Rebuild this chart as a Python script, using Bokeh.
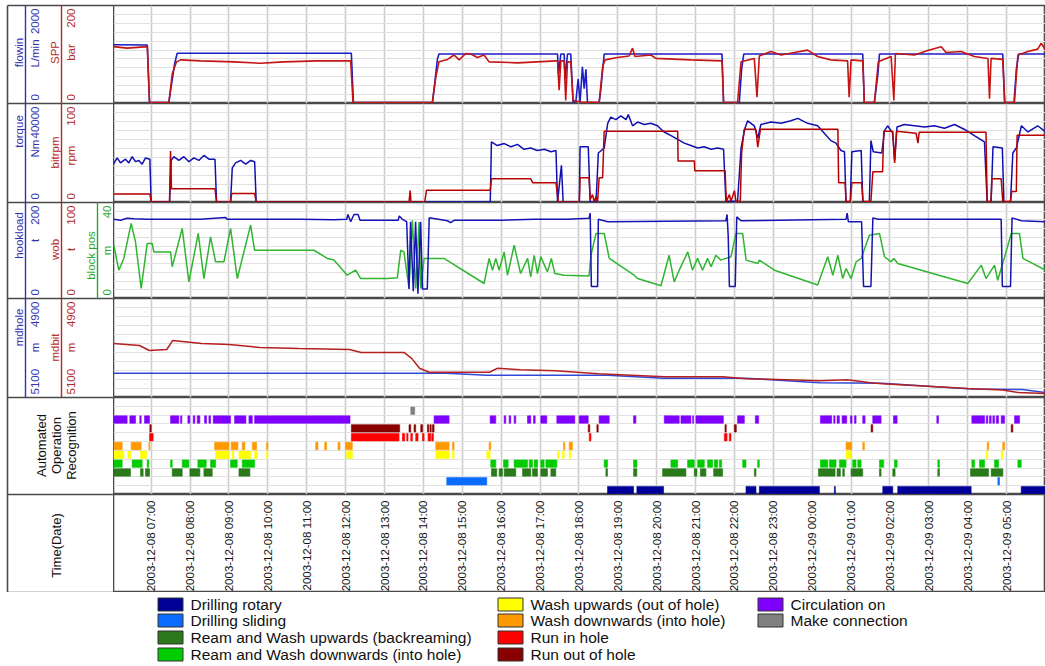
import numpy as np
import pandas as pd
from bokeh.plotting import figure
from bokeh.models import Range1d, FixedTicker
from bokeh.layouts import row, column
from bokeh.embed import file_html
from bokeh.resources import INLINE
from bokeh.core.properties import value

# ---------------- data (time in hours after 2003-12-08 06:00) ----------------
flow_t = [0.03, 0.9, 0.956, 1.454, 1.514, 1.6, 1.668, 6.147, 6.2, 8.232, 8.275, 8.36, 8.4, 11.45, 11.475, 11.535,
          11.62, 11.646, 11.706, 11.79, 11.85, 11.92, 11.98, 12.03, 12.09, 12.135, 12.18, 12.22, 12.52, 12.565, 12.65,
          15.68, 15.72, 16.125, 16.185, 16.24, 19.3, 19.34, 19.6, 19.69, 19.73, 22.9, 22.95, 23.19, 23.25, 23.31, 24.0]
flow_v = [1200, 1195, 20, 20, 350, 800, 1025, 1025, 20, 20, 300, 900, 1010, 1010, 600, 1010,
          1010, 500, 1010, 1010, 30, 30, 500, 30, 750, 300, 700, 20, 20, 300, 1010,
          1010, 20, 20, 700, 1010, 1010, 20, 20, 600, 1010, 1010, 20, 20, 700, 1010, 1010]

spp_t = [0.03, 0.38, 0.9, 0.956, 1.454, 1.54, 1.65, 1.755, 2.27, 3.13, 3.81, 4.41, 5.27, 6.13, 6.19, 8.23, 8.32, 8.4,
         8.62, 8.79, 8.92, 9.09, 9.22, 9.39, 9.56, 9.69, 10.42, 11.41, 11.45, 11.49, 11.535, 11.62, 11.66, 11.706,
         11.79, 11.85, 12.05, 12.52, 12.61, 12.67, 12.99, 13.29, 13.38, 13.44, 13.85, 13.98, 14.88, 15.68, 15.72,
         16.08, 16.17, 16.51, 16.58, 16.64, 16.94, 17.2, 17.54, 17.88, 18.14, 18.48, 18.91, 18.95, 19.0, 19.3, 19.34,
         19.6, 19.7, 20.03, 20.1, 20.14, 20.63, 20.97, 21.32, 21.44, 21.83, 22.17, 22.52, 22.56, 22.6, 22.9, 22.95,
         23.2, 23.29, 23.55, 23.8, 23.89, 24.0]
spp_v = [116, 113, 116, 2, 2, 60, 85, 89, 87, 85, 82, 85, 87, 87, 2, 2, 54, 85,
         90, 99, 89, 102, 101, 94, 99, 85, 83, 87, 87, 27, 87, 87, 6, 85,
         85, 6, 3, 2, 75, 89, 94, 97, 113, 96, 99, 92, 89, 87, 2,
         2, 85, 92, 13, 97, 106, 99, 104, 109, 96, 89, 87, 13, 89, 87, 2,
         2, 85, 96, 6, 102, 99, 108, 116, 104, 106, 96, 92, 10, 92, 90, 2,
         2, 99, 106, 111, 123, 109]

torque_t = [0.03, 0.124, 0.21, 0.338, 0.424, 0.51, 0.596, 0.682, 0.767, 0.853, 0.965, 0.999, 1.471, 1.514, 1.583,
            1.711, 1.84, 1.97, 2.1, 2.225, 2.355, 2.485, 2.64, 2.68, 3.04, 3.085, 3.17, 3.3, 3.43, 3.56, 3.66, 3.7,
            9.72, 9.75, 9.9, 10.08, 10.25, 10.42, 10.59, 10.76, 10.93, 11.11, 11.28, 11.41, 11.45, 11.55, 11.595,
            12.01, 12.03, 12.24, 12.29, 12.44, 12.5, 12.65, 12.74, 12.82, 12.95, 13.08, 13.21, 13.27, 13.38, 13.51,
            13.68, 13.85, 14.02, 14.19, 14.37, 14.54, 14.71, 14.88, 15.05, 15.22, 15.4, 15.57, 15.72, 15.78, 16.08,
            16.17, 16.27, 16.34, 16.51, 16.6, 16.68, 16.94, 17.2, 17.45, 17.63, 17.88, 18.14, 18.31, 18.48, 18.61,
            18.74, 18.83, 18.87, 18.98, 19.02, 19.26, 19.3, 19.47, 19.51, 19.57, 19.79, 19.86, 19.94, 20.07, 20.12,
            20.18, 20.37, 20.63, 20.89, 21.14, 21.4, 21.66, 21.92, 22.17, 22.43, 22.5, 22.6, 22.65, 22.89, 22.93,
            23.1, 23.16, 23.25, 23.38, 23.55, 23.8, 24.0]
torque_v = [15500, 18000, 16000, 17500, 16000, 18500, 16500, 17000, 15500, 18000, 17500, 200, 200, 17000, 18500,
            17000, 18500, 16500, 18000, 17000, 19000, 17500, 17500, 200, 200, 14000, 16000, 17000, 15500, 17000, 16500, 200,
            200, 24500, 23000, 23800, 22500, 23500, 21500, 22000, 21000, 21500, 20500, 21000, 200, 15000, 200,
            200, 22500, 22500, 300, 200, 20000, 22000, 32000, 34500, 33500, 35000, 33500, 35500, 31000, 32500,
            31500, 32000, 31000, 28500, 27000, 25500, 24000, 23000, 22000, 22500, 21500, 22000, 21500, 500, 500,
            22000, 30000, 33000, 31000, 26000, 31500, 32500, 32000, 33000, 34000, 32000, 31000, 28000, 25000, 24000,
            21000, 20500, 300, 300, 20500, 21000, 300, 300, 25000, 20500, 20000, 29000, 31000, 28000, 17000,
            30500, 31500, 31000, 30500, 31000, 30000, 31500, 29500, 27000, 24500, 300, 300, 22500, 22000, 300,
            300, 20000, 22000, 31000, 28500, 31000, 28500]

rpm_t = [0.03, 0.965, 0.999, 1.471, 1.497, 1.52, 2.64, 2.68, 3.04, 3.07, 3.66, 3.7, 7.63, 7.66, 7.68, 8.035, 8.08,
         9.72, 9.75, 10.76, 10.81, 11.41, 11.47, 12.01, 12.03, 12.26, 12.29, 12.35, 12.39, 12.44, 12.48, 12.52, 12.61,
         12.65, 14.54, 14.55, 14.97, 14.98, 15.76, 15.79, 15.87, 15.91, 16.0, 16.04, 16.15, 16.185, 16.25, 16.55,
         16.6, 16.67, 18.66, 18.68, 18.845, 18.87, 18.98, 19.02, 19.27, 19.31, 19.51, 19.56, 19.81, 19.84, 20.07,
         20.12, 20.17, 20.67, 20.72, 20.75, 22.47, 22.5, 22.6, 22.62, 22.86, 22.9, 23.1, 23.13, 23.25, 23.27, 24.0]
rpm_v = [8.5, 8.5, 0.5, 0.5, 52, 14, 14, 0.5, 0.5, 9, 9, 0.5, 0.5, 12, 0.5, 0.5, 12.5,
         12.5, 24, 24, 20, 20, 0.5, 0.5, 25, 25, 3, 8, 1, 6, 1, 25, 25,
         72, 72, 42, 42, 32, 32, 1, 8, 1, 12, 1, 1, 50, 74, 74,
         56, 74, 74, 20, 20, 1, 1, 20, 20, 1, 1, 31, 31, 72, 72,
         40, 72, 70, 60, 71, 71, 1, 1, 24, 24, 1, 1, 11, 11, 68, 68]

hook_t = [0.03, 0.21, 0.38, 0.553, 0.896, 1.411, 2.27, 2.91, 2.955, 3.13, 3.985, 4.84, 5.7, 6.03, 6.06, 6.13, 6.215,
          6.32, 6.37, 6.99, 7.35, 7.38, 7.46, 7.57, 7.63, 7.67, 7.74, 7.8, 7.86, 7.93, 7.975, 8.1, 8.15, 8.62, 8.7,
          8.79, 9.99, 10.85, 11.71, 12.26, 12.29, 12.32, 12.48, 12.5, 12.74, 15.78, 15.81, 15.84, 15.87, 16.02, 16.06,
          16.17, 18.87, 18.9, 18.93, 19.27, 19.32, 19.51, 19.56, 19.69, 22.86, 22.89, 23.1, 23.14, 23.38, 24.0]
hook_v = [165, 163, 167, 166, 165, 165, 165, 169, 165, 165, 165, 165, 164, 165, 175, 160, 175,
          175, 163, 163, 163, 172, 165, 160, 20, 160, 15, 160, 10, 160, 20, 20, 168, 162, 158,
          163, 163, 165, 165, 167, 178, 25, 25, 165, 160, 162, 175, 130, 25, 25, 170,
          162, 165, 178, 160, 160, 25, 25, 168, 165, 165, 25, 25, 168, 162, 160]

block_t = [0.038, 0.167, 0.296, 0.484, 0.596, 0.742, 0.896, 1.025, 1.068, 1.497, 1.54, 1.797, 1.969, 2.209, 2.355,
           2.526, 2.655, 2.87, 3.041, 3.213, 3.556, 3.659, 5.186, 5.529, 5.7, 6.04, 6.26, 6.387, 7.074, 7.33, 7.417,
           7.5, 7.63, 7.717, 7.803, 7.889, 7.932, 8.018, 8.53, 9.562, 9.69, 9.777, 9.862, 9.948, 10.077, 10.163,
           10.335, 10.5, 10.68, 10.76, 10.85, 10.935, 11.02, 11.19, 11.29, 11.38, 11.62, 12.26, 12.31, 12.44, 12.65,
           12.78, 13.42, 13.51, 14.11, 14.32, 14.45, 14.58, 14.8, 14.92, 15.05, 15.18, 15.31, 15.4, 15.52, 15.65,
           15.91, 16.04, 16.21, 16.3, 16.6, 16.64, 17.03, 18.14, 18.4, 18.53, 18.66, 18.785, 18.87, 19.0, 19.13,
           19.26, 19.47, 19.73, 19.86, 20.03, 20.1, 20.2, 22.0, 22.35, 22.47, 22.69, 22.77, 22.95, 23.12, 23.33,
           23.42, 24.0]
block_v = [22.2, 11.8, 16.7, 31.3, 23.6, 4.2, 22.9, 22.9, 19.4, 19.4, 13.2, 29.2, 6.9, 27.1, 8.3,
           25.7, 15.3, 15.3, 29.2, 8.3, 30.6, 20.1, 20.1, 16.7, 16.0, 9.7, 11.8, 8.3, 8.3, 8.6, 20.1,
           19.4, 4.2, 32.6, 4.2, 31.9, 4.2, 16.7, 16.7, 6.25, 16.7, 11.8, 16.7, 11.8, 19.4, 9.7,
           22.2, 10.4, 16.7, 9.0, 18.0, 10.4, 17.4, 11.1, 16.7, 10.4, 9.7, 9.4, 18.0, 27.1, 27.1,
           16.7, 9.7, 8.3, 5.3, 18.0, 6.9, 11.8, 19.4, 11.8, 16.7, 11.8, 16.7, 13.2, 18.0, 16.0,
           17.4, 27.1, 27.1, 16.0, 14.6, 16.0, 11.8, 5.6, 17.4, 9.7, 18.0, 8.3, 12.5, 8.3, 15.3,
           16.7, 26.4, 27.1, 17.4, 15.3, 16.7, 14.6, 6.25, 13.9, 8.3, 13.9, 7.6, 17.4, 27.1, 27.1,
           16.7, 11.8]

mdbit_t = [0.03, 0.7, 0.95, 1.4, 1.55, 2.3, 3.0, 3.8, 4.8, 6.1, 6.4, 7.5, 7.7, 7.9, 8.15, 9.7, 9.9, 10.5, 11.4,
           12.5, 14.2, 15.7, 16.3, 18.2, 18.9, 19.5, 19.8, 22.0, 22.9, 23.3, 24.0]
mdbit_v = [4991, 4995, 5005, 5003, 4985, 4991, 4993, 4999, 5001, 5003, 5009, 5009, 5021, 5041, 5049, 5049, 5041,
           5044, 5046, 5052, 5058, 5058, 5062, 5066, 5064, 5070, 5072, 5082, 5085, 5090, 5092]
mdhole_t = [0.03, 8.6, 9.63, 12.74, 14.18, 16.3, 18.19, 19.8, 22.1, 23.4, 24.0]
mdhole_v = [5051, 5051, 5055, 5055, 5061, 5061, 5070, 5071, 5083, 5084, 5090]

# operation recognition intervals [start_h, end_h]
rotary_iv = [[12.736, 13.405], [13.491, 14.178], [16.297, 16.554], [16.64, 18.185], [18.571, 18.596],
             [19.815, 20.072], [20.2, 22.088], [23.375, 24.02]]
sliding_iv = [[8.601, 9.63], [22.775, 22.818]]
reamup_iv = [[0.038, 0.467], [0.725, 0.793], [0.853, 0.956], [1.54, 1.797], [1.994, 2.252], [2.355, 2.57],
             [3.256, 3.539], [9.75, 9.888], [9.948, 10.034], [10.077, 10.377], [10.549, 10.763], [10.806, 10.935],
             [11.02, 11.192], [11.278, 11.406], [12.693, 12.736], [13.405, 13.491], [14.152, 14.752],
             [14.967, 15.036], [15.122, 15.267], [15.465, 15.696], [16.511, 16.554], [18.159, 18.588],
             [18.639, 18.725], [18.785, 18.828], [18.999, 19.3], [19.729, 19.772], [20.072, 20.132],
             [21.23, 21.273], [22.071, 22.535], [22.603, 22.904]]
reamdown_iv = [[0.038, 0.253], [0.51, 0.768], [0.896, 0.939], [1.497, 1.54], [1.797, 1.969], [2.2, 2.415],
               [2.526, 2.655], [3.041, 3.213], [3.342, 3.659], [9.733, 9.862], [10.06, 10.18], [10.334, 10.677],
               [10.72, 10.806], [10.849, 10.935], [11.02, 11.106], [11.15, 11.432], [12.65, 12.736],
               [13.405, 13.491], [14.366, 14.538], [14.795, 14.967], [15.053, 15.224], [15.31, 15.439],
               [15.482, 15.568], [15.61, 15.67], [16.211, 16.297], [16.597, 16.64], [18.21, 18.4], [18.442, 18.614],
               [18.7, 18.87], [19.042, 19.128], [19.171, 19.257], [19.729, 19.84], [20.115, 20.184],
               [21.23, 21.273], [22.106, 22.175], [22.303, 22.431], [22.689, 22.792], [23.29, 23.375]]
washup_iv = [[0.038, 0.296], [0.4, 0.467], [0.725, 0.879], [2.655, 2.998], [3.084, 3.127], [3.256, 3.556],
             [3.659, 3.728], [3.968, 4.002], [6.027, 6.173], [8.318, 8.661], [8.747, 8.79], [9.63, 9.716],
             [11.45, 11.49], [11.578, 11.621], [11.75, 11.793], [18.87, 18.999], [22.474, 22.517], [22.861, 22.904]]
washdown_iv = [[0.038, 0.253], [0.484, 0.742], [0.939, 0.965], [2.63, 2.998], [3.058, 3.23], [3.342, 3.41],
               [3.6, 3.71], [3.968, 4.002], [5.229, 5.289], [5.461, 5.512], [5.804, 5.855], [6.001, 6.173],
               [8.318, 8.661], [8.747, 8.79], [9.69, 9.733], [11.604, 11.638], [11.75, 11.835], [18.87, 19.017],
               [19.3, 19.343], [22.5, 22.543], [22.9, 22.946]]
rih_iv = [[0.956, 1.05], [6.147, 7.374], [7.46, 7.52], [7.571, 7.605], [7.675, 7.717], [7.803, 7.863],
          [7.975, 8.018], [8.12, 8.19], [8.215, 8.258], [12.265, 12.31], [15.74, 15.81], [15.868, 15.911]]
rooh_iv = [[0.965, 1.0], [6.147, 7.391], [7.63, 7.675], [7.76, 7.803], [7.932, 7.98], [8.103, 8.14], [8.17, 8.2],
           [8.23, 8.275], [12.24, 12.28], [12.462, 12.496], [15.757, 15.79], [15.997, 16.048], [19.515, 19.557],
           [23.118, 23.161]]
circ_iv = [[0.038, 0.381], [0.45, 0.596], [0.707, 0.742], [0.828, 0.956], [1.497, 1.711], [1.754, 1.789],
           [1.943, 1.994], [2.08, 2.123], [2.183, 2.252], [2.372, 2.423], [2.484, 2.526], [2.595, 3.041],
           [3.144, 3.436], [3.513, 3.6], [3.659, 6.113], [8.275, 8.661], [9.716, 9.862], [10.077, 10.12],
           [10.205, 10.248], [10.334, 10.377], [10.677, 10.763], [10.832, 10.875], [11.02, 11.175],
           [11.432, 11.895], [12.007, 12.239], [12.52, 12.779], [13.405, 13.466], [14.195, 14.58], [14.624, 14.881],
           [14.924, 14.95], [15.01, 15.714], [16.08, 16.254], [16.537, 16.623], [18.21, 18.502], [18.554, 18.588],
           [18.639, 18.699], [18.768, 18.888], [18.982, 19.025], [19.085, 19.128], [19.3, 19.36], [19.557, 19.772],
           [20.089, 20.184], [21.205, 21.248], [22.106, 22.431], [22.474, 22.517], [22.56, 22.603],
           [22.646, 22.689], [22.732, 22.792], [22.861, 22.946], [23.204, 23.333]]
conn_iv = [[7.675, 7.777]]

op_names = ["Drilling rotary", "Drilling sliding", "Ream and Wash upwards (backreaming)",
            "Ream and Wash downwards (into hole)", "Wash upwards (out of hole)", "Wash downwards (into hole)",
            "Run in hole", "Run out of hole", "Circulation on", "Make connection"]
op_colors = ["#000099", "#0a6cff", "#2a7a1c", "#00cc00", "#ffff00", "#ff9900", "#ff0000", "#880000",
             "#8000ff", "#808080"]
op_intervals = [rotary_iv, sliding_iv, reamup_iv, reamdown_iv, washup_iv, washdown_iv, rih_iv, rooh_iv,
                circ_iv, conn_iv]

time_tick_hours = list(range(1, 24))

# ---------------- helpers ----------------
BASE = pd.Timestamp("2003-12-08 06:00")
FONT = "Liberation Sans"


def tt(h):
    return (BASE + pd.to_timedelta(np.asarray(h, dtype=float), unit="h")).values


def ms(h):
    return (BASE + pd.Timedelta(hours=h)).value / 1e6


time_tick_labels = [(BASE + pd.Timedelta(hours=h)).strftime("%Y-%m-%d %H:%M") for h in time_tick_hours]
hour_ticks = [ms(h) for h in time_tick_hours]
xr = Range1d(ms(0.03), ms(24.0))

BLUE_L = "#1c1cc8"
RED_L = "#c41414"
GREEN_L = "#2fb52f"
BLUE_T = "#3232b4"
RED_T = "#b42828"
GREEN_T = "#2ca82c"

tops = [5, 103, 202, 298, 397, 494, 592]


def panel(h, top_border=0, grid=True):
    p = figure(width=932, height=h + top_border, x_range=xr, y_range=Range1d(0, 11),
               x_axis_location=None, y_axis_location=None, toolbar_location=None,
               output_backend="svg", min_border=0, min_border_top=top_border,
               min_border_left=0, min_border_right=0, min_border_bottom=0)
    p.xgrid.ticker = FixedTicker(ticks=hour_ticks)
    p.ygrid.ticker = FixedTicker(ticks=list(range(1, 11)))
    p.xgrid.grid_line_color = "#cdcdcd" if grid else None
    p.xgrid.grid_line_width = 1.6
    p.ygrid.grid_line_color = "#e0e0e0" if grid else None
    p.ygrid.grid_line_width = 1
    p.outline_line_color = "#4a4a4a"
    p.outline_line_width = 1.6
    p.background_fill_color = "white"
    p.border_fill_color = "white"
    return p


# panel 1: flow / SPP
p1 = panel(tops[1] - tops[0], top_border=tops[0])
p1.extra_y_ranges = {"flow": Range1d(0, 2000), "spp": Range1d(0, 200)}
p1.line(tt(flow_t), flow_v, y_range_name="flow", color=BLUE_L, line_width=1.6)
p1.line(tt(spp_t), spp_v, y_range_name="spp", color=RED_L, line_width=1.6)

# panel 2: torque / rpm
p2 = panel(tops[2] - tops[1])
p2.extra_y_ranges = {"torque": Range1d(0, 40000), "rpm": Range1d(0, 100)}
p2.line(tt(torque_t), torque_v, y_range_name="torque", color="#1010b0", line_width=1.5)
p2.line(tt(rpm_t), rpm_v, y_range_name="rpm", color="#b80000", line_width=1.5)

# panel 3: hookload / block position
p3 = panel(tops[3] - tops[2])
p3.extra_y_ranges = {"hook": Range1d(0, 200), "block": Range1d(0, 40)}
p3.line(tt(block_t), block_v, y_range_name="block", color=GREEN_L, line_width=1.5)
p3.line(tt(hook_t), hook_v, y_range_name="hook", color="#1414b4", line_width=1.5)

# panel 4: depths
p4 = panel(tops[4] - tops[3])
p4.extra_y_ranges = {"md": Range1d(5100, 4900)}
p4.line(tt(mdhole_t), mdhole_v, y_range_name="md", color="#3048d8", line_width=1.5)
p4.line(tt(mdbit_t), mdbit_v, y_range_name="md", color="#b42020", line_width=1.5)

# panel 5: operation recognition
p5 = panel(tops[5] - tops[4])
for i, (iv, col) in enumerate(zip(op_intervals, op_colors)):
    a = np.asarray(iv, dtype=float)
    p5.quad(left=tt(a[:, 0]), right=tt(a[:, 1]), bottom=i + 0.08, top=i + 0.92,
            fill_color=col, line_color=col, line_width=0.6)

# panel 6: time labels
p6 = panel(tops[6] - tops[5], grid=False)
p6.y_range = Range1d(0, tops[6] - tops[5])
p6.text(x=tt(time_tick_hours), y=[tops[6] - tops[5] - 6] * len(time_tick_hours), text=time_tick_labels,
        angle=np.pi / 2, text_align="right", text_baseline="middle",
        text_font=value(FONT), text_font_size="11.5px", text_color="#111111")

# ---------------- left label column ----------------
lab = figure(width=113, height=592, x_range=Range1d(0, 113), y_range=Range1d(592, 0),
             x_axis_location=None, y_axis_location=None, toolbar_location=None,
             output_backend="svg", min_border=0)
lab.xgrid.visible = False
lab.ygrid.visible = False
lab.outline_line_color = None
lab.segment(x0=[7] * 7, y0=tops, x1=[113] * 7, y1=tops, color="#4a4a4a", line_width=1.6)
lab.segment(x0=[7], y0=[5], x1=[7], y1=[592], color="#4a4a4a", line_width=1.6)

# (panel index, name, unit, top label, bottom label, colour, line x, name y, unit y)
label_specs = [
    (0, "flowin", "L/min", "2000", "0", BLUE_T, 25, 52, 53),
    (0, "SPP", "bar", "200", "0", RED_T, 61, 52, 52),
    (1, "torque", "Nm", "40000", "0", BLUE_T, 25, 131, 148),
    (1, "bitrpm", "rpm", "100", "0", RED_T, 61, 152, 155),
    (2, "hookload", "t", "200", "0", BLUE_T, 25, 235, 240),
    (2, "wob", "t", "100", "0", RED_T, 61, 249, 249),
    (2, "block pos", "m", "40", "0", GREEN_T, 97, 255, 250),
    (3, "mdhole", "m", "4900", "5100", BLUE_T, 25, 327, 347),
    (3, "mdbit", "m", "4900", "5100", RED_T, 61, 347, 347),
]
for k, name, unit, tlab, blab, col, lx, ny, uy in label_specs:
    t0, t1 = tops[k], tops[k + 1]
    lab.segment(x0=[lx], y0=[t0], x1=[lx], y1=[t1], color=col, line_width=1.4)
    kw = dict(angle=np.pi / 2, text_font=value(FONT), text_font_size="11.5px", text_color=col,
              text_baseline="middle")
    lab.text(x=[lx - 7], y=[ny], text=[name], text_align="center", **kw)
    lab.text(x=[lx + 9], y=[uy], text=[unit], text_align="center", **kw)
    lab.text(x=[lx + 9], y=[t0 + 3], text=[tlab], text_align="right", **kw)
    lab.text(x=[lx + 9], y=[t1 - 3], text=[blab], text_align="left", **kw)

lab.text(x=[41, 56, 71], y=[445, 445, 445], text=["Automated", "Operation", "Recognition"], angle=np.pi / 2,
         text_align="center", text_baseline="middle", text_font=value(FONT), text_font_size="13px",
         text_color="#111111")
lab.text(x=[56], y=[545], text=["Time(Date)"], angle=np.pi / 2, text_align="center", text_baseline="middle",
         text_font=value(FONT), text_font_size="13px", text_color="#111111")

# ---------------- legend ----------------
leg = figure(width=1045, height=74, x_range=Range1d(0, 1045), y_range=Range1d(74, 0),
             x_axis_location=None, y_axis_location=None, toolbar_location=None,
             output_backend="svg", min_border=0)
leg.xgrid.visible = False
leg.ygrid.visible = False
leg.outline_line_color = None
col_x = [157, 497, 757]
row_y = [12, 28, 45, 62]
lx = [col_x[i // 4] for i in range(len(op_names))]
ly = [row_y[i % 4] for i in range(len(op_names))]
leg.rect(x=[v + 13 for v in lx], y=ly, width=25, height=13, fill_color=op_colors, line_color="#333333",
         line_width=1)
leg.text(x=[v + 33 for v in lx], y=ly, text=op_names, text_align="left", text_baseline="middle",
         text_font=value(FONT), text_font_size="15.5px", text_color="#111111")

layout = column(row(lab, column(p1, p2, p3, p4, p5, p6)), leg)
open("out.html", "w").write(file_html(layout, INLINE))
